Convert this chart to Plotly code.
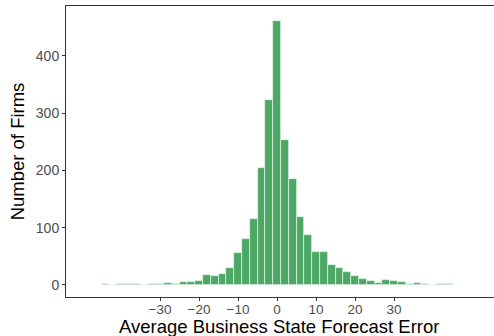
import plotly.graph_objects as go

# Histogram bins (width 2) centred on even forecast-error values
bin_centers = [-44, -42, -40, -38, -36, -34, -32, -30, -28, -26, -24, -22, -20,
               -18, -16, -14, -12, -10, -8, -6, -4, -2, 0, 2, 4, 6, 8, 10, 12,
               14, 16, 18, 20, 22, 24, 26, 28, 30, 32, 34, 36, 38, 40, 42, 44]
firm_counts = [1, 0, 1, 1, 2, 0, 1, 1, 4, 2, 6, 6, 7,
               18, 15, 20, 30, 55, 81, 116, 204, 323, 461, 253, 185, 118, 87, 57, 57,
               35, 30, 23, 15, 11, 7, 4, 9, 7, 6, 1, 3, 1, 0, 1, 2]

x_ticks = [-30, -20, -10, 0, 10, 20, 30]
y_ticks = [0, 100, 200, 300, 400]

fig = go.Figure(
    go.Bar(
        x=bin_centers,
        y=firm_counts,
        width=2,
        marker=dict(color="#4DA866", line=dict(color="#E8F3EB", width=0.7)),
    )
)

fig.update_layout(
    width=494,
    height=336,
    margin=dict(l=66, r=0, t=6, b=39),
    paper_bgcolor="white",
    plot_bgcolor="white",
    showlegend=False,
    bargap=0,
    font=dict(family="Liberation Sans, Arial, sans-serif"),
    annotations=[
        dict(
            text="Average Business State Forecast Error",
            xref="paper", yref="paper",
            x=0.497, y=-0.103,
            xanchor="center", yanchor="middle",
            showarrow=False,
            font=dict(size=18.5, color="black"),
        )
    ],
)

fig.update_xaxes(
    range=[-54.1, 55.6],
    tickvals=x_ticks,
    ticks="outside",
    ticklen=3,
    tickcolor="#333333",
    tickfont=dict(size=13.5, color="#4D4D4D"),
    ticklabelstandoff=-3,
    showgrid=False,
    zeroline=False,
    showline=True,
    linecolor="#333333",
    linewidth=1,
    mirror=True,
)

fig.update_yaxes(
    range=[-21, 487],
    tickvals=y_ticks,
    ticks="outside",
    ticklen=3,
    tickcolor="#333333",
    tickfont=dict(size=14, color="#4D4D4D"),
    showgrid=False,
    zeroline=False,
    showline=True,
    linecolor="#333333",
    linewidth=1,
    title=dict(text="Number of Firms", font=dict(size=18.5, color="black"), standoff=6),
)

fig.write_html("out.html")
